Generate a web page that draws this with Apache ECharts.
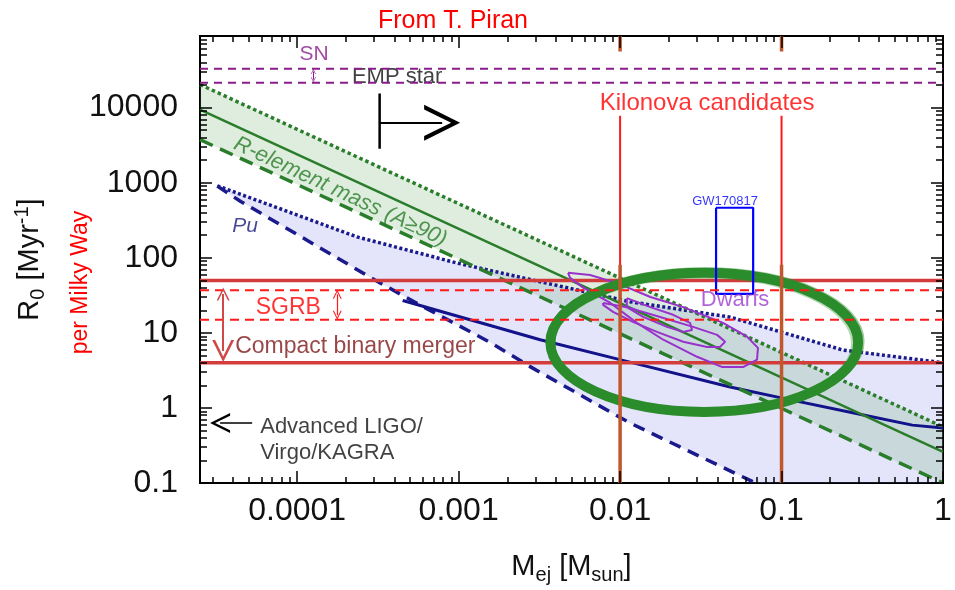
<!DOCTYPE html>
<html>
<head>
<meta charset="utf-8">
<script src="https://cdn.jsdelivr.net/npm/echarts@6/dist/echarts.min.js"></script>
<style>
  html, body { margin: 0; padding: 0; background: #fff; }
  #chart { width: 955px; height: 590px; }
</style>
</head>
<body>
<div id="chart"></div>
<script>
// axis ranges (M_ej in solar masses, R0 per Myr)
var X_MIN = 2.5e-5, X_MAX = 1;
var Y_MIN = 0.1, Y_MAX = 9e4;

// r-process element mass band (A >= 90)
var greenDotted = [[2.5e-5, 20300], [1, 0.56]];
var greenSolid = [[2.5e-5, 9400], [1, 0.26]];
var greenDashed = [[2.5e-5, 3750], [1, 0.1]];

// Pu band
var puDotted = [[3.2e-5, 910], [2.34e-4, 190], [9.8e-4, 85], [0.0032, 48], [0.0115, 26], [0.048, 16.2], [0.24, 5.9], [1, 4.0]];
var puDashed = [[3.2e-5, 900], [4.47e-5, 562], [3.16e-4, 48], [6.0e-4, 22.4], [1.58e-3, 7.4], [2.77e-3, 3.55], [0.0115, 0.63], [0.069, 0.1]];
var puSolid = [[4.5e-4, 27], [3.2e-3, 8.1], [0.0115, 4.07], [0.048, 1.9], [0.112, 1.29], [0.316, 0.81], [0.646, 0.59], [1, 0.54]];

// horizontal rate levels
var snRates = [33000, 21500];
var cbmRates = [50, 4];
var sgrbRates = [37, 15];

// kilonova candidate masses
var kilonovaMasses = [0.01, 0.1];

// GW170817 box
var gwBox = [[0.0393, 464], [0.0667, 464], [0.0667, 33], [0.0393, 33], [0.0393, 464]];

// dwarf galaxy contours
var dwarfOuter = [[0.00476, 63], [0.00652, 59], [0.00958, 46], [0.0154, 30], [0.0246, 22], [0.0434, 13.6], [0.0611, 8.9],
  [0.0714, 6.3], [0.0705, 4.4], [0.0578, 3.5], [0.043, 3.5], [0.030, 4.8], [0.0185, 8.1], [0.0127, 13.6],
  [0.0087, 25], [0.0059, 40], [0.0049, 54], [0.00476, 63]];
var dwarfMiddle = [[0.00785, 25], [0.011, 22], [0.0177, 16.3], [0.0283, 12], [0.0399, 9.4], [0.0447, 7.6], [0.0416, 6.5],
  [0.0346, 6.5], [0.0246, 7.6], [0.0169, 10.3], [0.012, 14], [0.00905, 19], [0.00785, 23.6], [0.00785, 25]];
var dwarfInner = [[0.011, 29], [0.0154, 22], [0.0213, 17.4], [0.0271, 13.6], [0.0279, 10.9], [0.0246, 10.3],
  [0.0195, 12], [0.0139, 16.3], [0.011, 22], [0.011, 29]];

// hand-drawn ellipse extent
var ellipseX = [0.0037, 0.298];
var ellipseY = [0.885, 63];

// arrows (end points sit half a head short of the tip)
var cbmArrow = [[3.48e-5, 33], [3.48e-5, 5.75]];
var sgrbArrow = [[1.77e-4, 32.6], [1.77e-4, 17.1]];
var snArrow = [[1.26e-4, 30200], [1.26e-4, 23600]];
var empBar = [[3.24e-4, 2840], [3.24e-4, 15400]];
var empArrow = [[3.24e-4, 6300], [7.9e-4, 6300]];
var ligoArrow = [[5.26e-5, 0.63], [3.33e-5, 0.63]];

// annotation anchors
var notePos = {
  sn: [1.27e-4, 50900], emp: [4.16e-4, 25900], kilonova: [0.0346, 11300], sgrb: [8.8e-5, 21.5],
  cbm: [2.29e-4, 6.5], gw: [0.0447, 558], dwarfs: [0.0515, 27.5], pu: [4.76e-5, 267],
  relem: [1.85e-4, 759], ligo: [5.9e-5, 0.374]
};

// tick positions
var xMajor = [1e-4, 1e-3, 1e-2, 1e-1, 1];
var yMajor = [0.1, 1, 10, 100, 1000, 10000];
var xMinor = [], yMinor = [];
for (var e = -5; e <= 0; e++) for (var k = 2; k <= 9; k++) {
  var v = +(k * Math.pow(10, e)).toPrecision(3);
  if (v > X_MIN && v < X_MAX) xMinor.push(v);
}
for (var e2 = -1; e2 <= 5; e2++) for (var k2 = 2; k2 <= 9; k2++) {
  var v2 = +(k2 * Math.pow(10, e2)).toPrecision(3);
  if (v2 > Y_MIN && v2 < Y_MAX) yMinor.push(v2);
}

var W = 955, H = 590;
var GRID = { left: 200, right: 12, top: 36, bottom: 107 };
// pixels per decade, used to turn a tick length into a data-space span
var xDec = (W - GRID.left - GRID.right) / Math.log10(X_MAX / X_MIN);
var yDec = (H - GRID.top - GRID.bottom) / Math.log10(Y_MAX / Y_MIN);

var FONT = 'Liberation Sans, Arial, Helvetica, sans-serif';
function fmt(v) { return String(+(+v).toPrecision(6)); }

function lineSeries(data, color, width, type, z) {
  return {
    type: 'line', data: data, symbol: 'none', showSymbol: false, silent: true, z: z || 3,
    lineStyle: { color: color, width: width, type: type || 'solid' }
  };
}
function hLine(y, color, width, type, z) { return lineSeries([[X_MIN, y], [X_MAX, y]], color, width, type, z); }
function vLine(x, y0, y1, color, width, z) { return lineSeries([[x, y0], [x, y1]], color, width, 'solid', z); }

var CHEVRON = 'path://M0,12 L6,0 L12,12 L10.4,12 L6,3 L1.6,12 Z';
function arrowSeries(coords, color, width, both, size) {
  return {
    type: 'lines', coordinateSystem: 'cartesian2d', silent: true, z: 6,
    symbol: [both ? CHEVRON : 'none', CHEVRON], symbolSize: size,
    lineStyle: { color: color, width: width, opacity: 1 },
    data: [{ coords: coords }]
  };
}
function bandSeries(poly, color, z) {
  return {
    type: 'custom', coordinateSystem: 'cartesian2d', silent: true, z: z,
    data: [poly[0]],
    renderItem: function (params, api) {
      var pts = poly.map(function (p) { return api.coord(p); });
      return { type: 'polygon', shape: { points: pts }, style: { fill: color } };
    }
  };
}
function note(pos, text, style) {
  var lab = Object.assign({ show: true, position: 'inside', formatter: text, fontFamily: FONT }, style);
  return { value: pos, label: lab };
}

// inside ticks on all four sides as short segments in data space
function tickLines() {
  var segs = [];
  function xt(list, len) {
    var f = Math.pow(10, len / yDec);
    list.forEach(function (x) {
      segs.push({ coords: [[x, Y_MIN], [x, Y_MIN * f]] });
      segs.push({ coords: [[x, Y_MAX], [x, Y_MAX / f]] });
    });
  }
  function yt(list, len) {
    var f = Math.pow(10, len / xDec);
    list.forEach(function (y) {
      segs.push({ coords: [[X_MIN, y], [X_MIN * f, y]] });
      segs.push({ coords: [[X_MAX, y], [X_MAX / f, y]] });
    });
  }
  xt(xMajor, 12); xt(xMinor, 6);
  yt(yMajor, 12); yt(yMinor, 7);
  return {
    type: 'lines', coordinateSystem: 'cartesian2d', silent: true, z: 8, clip: false,
    symbol: ['none', 'none'],
    lineStyle: { color: '#000', width: 1.5, opacity: 1 },
    data: segs
  };
}

var chart = echarts.init(document.getElementById('chart'), null, { renderer: 'canvas' });

var option = {
  animation: false,
  textStyle: { fontFamily: FONT },
  title: {
    text: 'From T. Piran', left: 448, top: 4, textAlign: 'center',
    textStyle: { color: '#ff0000', fontSize: 25, fontWeight: 'normal', fontFamily: FONT }
  },
  grid: { left: GRID.left, right: GRID.right, top: GRID.top, bottom: GRID.bottom, show: true, borderColor: '#000', borderWidth: 2, backgroundColor: 'transparent' },
  xAxis: {
    type: 'log', logBase: 10, min: X_MIN, max: X_MAX, position: 'bottom',
    axisLine: { show: true, onZero: false, lineStyle: { color: '#000', width: 2 } },
    axisTick: { show: false },
    axisLabel: { fontSize: 32, color: '#111', margin: 12, formatter: fmt, showMinLabel: false, fontFamily: FONT },
    splitLine: { show: false },
    name: '{a|M}{s|ej}{a| [M}{s|sun}{a|]}', nameLocation: 'middle', nameGap: 66,
    nameTextStyle: {
      rich: {
        a: { fontSize: 29, color: '#111', lineHeight: 36, fontFamily: FONT },
        s: { fontSize: 20, color: '#111', lineHeight: 20, verticalAlign: 'bottom', fontFamily: FONT }
      }
    }
  },
  yAxis: [
    {
      type: 'log', logBase: 10, min: Y_MIN, max: Y_MAX, position: 'left',
      axisLine: { show: true, onZero: false, lineStyle: { color: '#000', width: 2 } },
      axisTick: { show: false },
      axisLabel: { fontSize: 32, color: '#111', margin: 22, formatter: fmt, showMaxLabel: false, padding: [0, 0, 8, 0], fontFamily: FONT },
      splitLine: { show: false },
      name: '{a|R}{s|0}{a| [Myr}{p|-1}{a|]}', nameLocation: 'middle', nameRotate: 90, nameGap: 152,
      nameTextStyle: {
        rich: {
          a: { fontSize: 29, color: '#111', lineHeight: 36, fontFamily: FONT },
          s: { fontSize: 20, color: '#111', lineHeight: 20, verticalAlign: 'bottom', fontFamily: FONT },
          p: { fontSize: 20, color: '#111', lineHeight: 20, verticalAlign: 'top', fontFamily: FONT }
        }
      }
    },
    {
      type: 'log', logBase: 10, min: Y_MIN, max: Y_MAX, position: 'left',
      axisLine: { show: false }, axisTick: { show: false },
      axisLabel: { show: false }, splitLine: { show: false },
      name: 'per Milky Way', nameLocation: 'middle', nameRotate: 90, nameGap: 108,
      nameTextStyle: { color: '#ff0000', fontSize: 23, fontFamily: FONT, padding: [0, 46, 0, 0] }
    }
  ],
  series: [
    // shaded bands
    bandSeries(puDotted.concat([[1, 0.1]], puDashed.slice().reverse()), 'rgba(120,120,235,0.2)', 1),
    bandSeries(greenDotted.concat([[1, 0.1]], greenDashed.slice().reverse()), 'rgba(90,165,90,0.2)', 1),

    // Pu lines
    lineSeries(puDotted, '#1a1a8c', 3.5, [3, 2.5], 2),
    lineSeries(puDashed, '#1a1a8c', 3.5, [12, 8], 2),
    lineSeries(puSolid, '#12128a', 3, 'solid', 2),

    // r-element lines
    lineSeries(greenDotted, '#2a7d2a', 3.5, [3.5, 3], 2),
    lineSeries(greenSolid, '#2a7d2a', 2.5, 'solid', 2),
    lineSeries(greenDashed, '#2a7d2a', 3.5, [14, 8], 2),

    // compact binary merger band
    hLine(cbmRates[0], '#d43c3c', 3.5, 'solid', 3),
    hLine(cbmRates[1], '#d43c3c', 3.5, 'solid', 3),

    // dwarf contours
    lineSeries(dwarfOuter, '#9932cc', 2, 'solid', 3),
    lineSeries(dwarfMiddle, '#9932cc', 2, 'solid', 3),
    lineSeries(dwarfInner, '#9932cc', 2, 'solid', 3),

    // GW170817 box
    lineSeries(gwBox, '#0000ff', 2.2, 'solid', 4),

    // hand-drawn ellipse
    {
      type: 'custom', coordinateSystem: 'cartesian2d', silent: true, z: 4,
      data: [[Math.sqrt(ellipseX[0] * ellipseX[1]), Math.sqrt(ellipseY[0] * ellipseY[1])]],
      renderItem: function (params, api) {
        var l = api.coord([ellipseX[0], ellipseY[0]]);
        var r = api.coord([ellipseX[1], ellipseY[1]]);
        var cx = (l[0] + r[0]) / 2, cy = (l[1] + r[1]) / 2;
        var rx = Math.abs(r[0] - l[0]) / 2, ry = Math.abs(r[1] - l[1]) / 2;
        return {
          type: 'group', children: [
            { type: 'ellipse', shape: { cx: cx, cy: cy, rx: rx, ry: ry }, style: { fill: 'none', stroke: '#2b8c2b', lineWidth: 10 } },
            { type: 'ellipse', shape: { cx: cx + 1, cy: cy - 1, rx: rx + 4, ry: ry + 3 }, style: { fill: 'none', stroke: 'rgba(43,140,43,0.45)', lineWidth: 3 } },
            { type: 'ellipse', shape: { cx: cx - 1, cy: cy + 1, rx: rx - 5, ry: ry - 4 }, style: { fill: 'none', stroke: 'rgba(43,140,43,0.35)', lineWidth: 2 } }
          ]
        };
      }
    },

    // SGRB dashed levels
    hLine(sgrbRates[0], '#ff1a1a', 2, [9, 6], 5),
    hLine(sgrbRates[1], '#ff1a1a', 2, [9, 6], 5),

    // kilonova candidate verticals
    vLine(kilonovaMasses[0], 7800, Y_MIN, '#ff1a1a', 2, 5),
    vLine(kilonovaMasses[1], 7800, Y_MIN, '#ff1a1a', 2, 5),
    vLine(kilonovaMasses[0], 80.7, Y_MIN, '#c0582e', 3.5, 5),
    vLine(kilonovaMasses[1], 80.7, Y_MIN, '#c0582e', 3.5, 5),
    vLine(kilonovaMasses[0], Y_MAX, 55800, '#c0582e', 3.5, 5),
    vLine(kilonovaMasses[1], Y_MAX, 55800, '#c0582e', 3.5, 5),

    // annotation text (EMP label sits under the SN lines)
    {
      type: 'scatter', symbolSize: 0, silent: true, z: 6,
      data: [
        note(notePos.emp, 'EMP star', { color: '#111', fontSize: 22 }),
        note(notePos.sn, 'SN', { color: '#8b1c8b', fontSize: 21 }),
        note(notePos.kilonova, 'Kilonova candidates', { color: '#ff0000', fontSize: 24 }),
        note(notePos.sgrb, 'SGRB', { color: '#ff0000', fontSize: 23 }),
        note(notePos.cbm, 'Compact binary merger', { color: '#7e1818', fontSize: 23 }),
        note(notePos.gw, 'GW170817', { color: '#0000ff', fontSize: 13 }),
        note(notePos.dwarfs, 'Dwarfs', { color: '#9b3fd0', fontSize: 22 }),
        note(notePos.pu, 'Pu', { color: '#1a1a80', fontSize: 21, fontStyle: 'italic' }),
        note(notePos.relem, 'R-element mass (A≥90)', { color: '#2a7d2a', fontSize: 22, fontStyle: 'italic', rotate: -25 }),
        note(notePos.ligo, 'Advanced LIGO/\nVirgo/KAGRA', { color: '#111', fontSize: 22, align: 'left', lineHeight: 26 })
      ]
    },

    // SN band on top of the EMP label
    hLine(snRates[0], '#8b1c8b', 2, [8, 6], 7),
    hLine(snRates[1], '#8b1c8b', 2, [8, 6], 7),

    // arrows
    lineSeries(empBar, '#000', 2.5, 'solid', 6),
    arrowSeries(empArrow, '#000', 2, false, [16, 36]),
    arrowSeries(ligoArrow, '#000', 1.5, false, [12, 20]),
    arrowSeries(cbmArrow, '#d04848', 2, true, [13, 22]),
    arrowSeries(sgrbArrow, '#ff1a1a', 1.2, true, [9, 9]),
    arrowSeries(snArrow, '#8b1c8b', 1, true, [5, 5]),

    // axis ticks
    tickLines()
  ]
};

chart.setOption(option);
</script>
</body>
</html>
